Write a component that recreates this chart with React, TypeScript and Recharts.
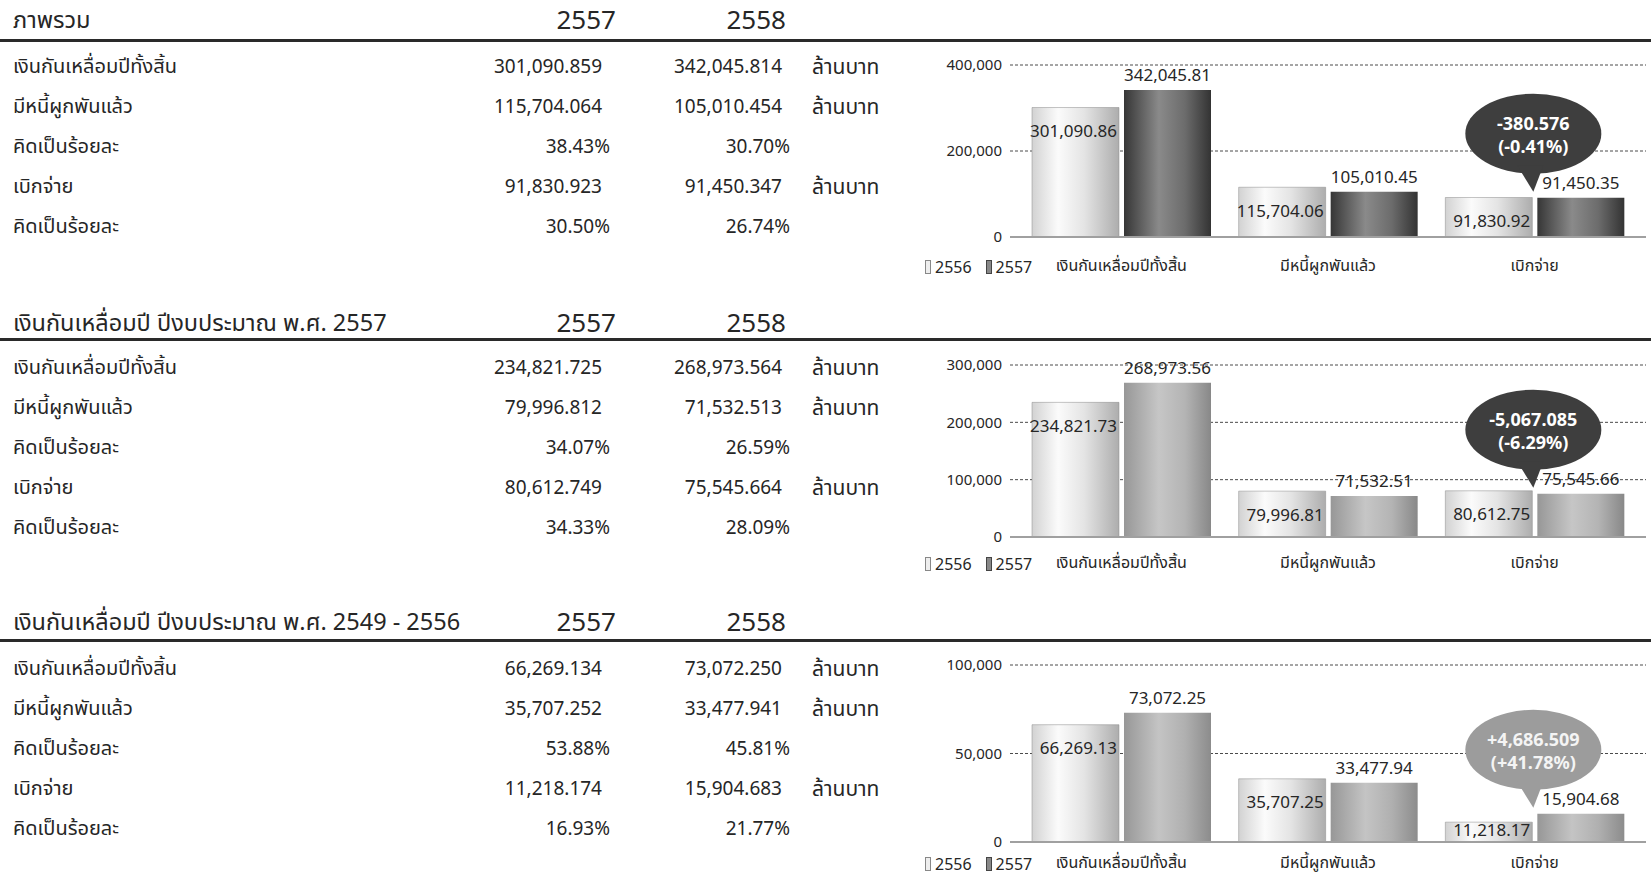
import React from 'react';
import { BarChart, Bar, XAxis, YAxis, CartesianGrid, LabelList, Legend } from 'recharts';

const FONT = "'Noto Sans', 'Noto Sans Thai', 'DejaVu Sans', sans-serif";
const INK = '#262626';

const categories = ['เงินกันเหลื่อมปีทั้งสิ้น', 'มีหนี้ผูกพันแล้ว', 'เบิกจ่าย'];
const legendYears = ['2556', '2557'];
const tableYears = ['2557', '2558'];
const rowLabels = ['เงินกันเหลื่อมปีทั้งสิ้น', 'มีหนี้ผูกพันแล้ว', 'คิดเป็นร้อยละ', 'เบิกจ่าย', 'คิดเป็นร้อยละ'];
const rowUnits = ['ล้านบาท', 'ล้านบาท', '', 'ล้านบาท', ''];
const sectionTitles = [
  'ภาพรวม',
  'เงินกันเหลื่อมปี ปีงบประมาณ พ.ศ. 2557',
  'เงินกันเหลื่อมปี ปีงบประมาณ พ.ศ. 2549 - 2556',
];

// table values (column 2557, column 2558)
const table1Col1 = ['301,090.859', '115,704.064', '38.43%', '91,830.923', '30.50%'];
const table1Col2 = ['342,045.814', '105,010.454', '30.70%', '91,450.347', '26.74%'];
const table2Col1 = ['234,821.725', '79,996.812', '34.07%', '80,612.749', '34.33%'];
const table2Col2 = ['268,973.564', '71,532.513', '26.59%', '75,545.664', '28.09%'];
const table3Col1 = ['66,269.134', '35,707.252', '53.88%', '11,218.174', '16.93%'];
const table3Col2 = ['73,072.250', '33,477.941', '45.81%', '15,904.683', '21.77%'];

// chart series values (legend 2556 / 2557)
const chart1Prev = [301090.86, 115704.06, 91830.92];
const chart1Curr = [342045.81, 105010.45, 91450.35];
const chart2Prev = [234821.73, 79996.81, 80612.75];
const chart2Curr = [268973.56, 71532.51, 75545.66];
const chart3Prev = [66269.13, 35707.25, 11218.17];
const chart3Curr = [73072.25, 33477.94, 15904.68];

// disbursement values used in the callouts
const disbPrev = [91830.923, 80612.749, 11218.174];
const disbCurr = [91450.347, 75545.664, 15904.683];

const chart1Ticks = [0, 200000, 400000];
const chart2Ticks = [0, 100000, 200000, 300000];
const chart3Ticks = [0, 50000, 100000];

const fmt2 = (v: number) =>
  v.toLocaleString('en-US', { minimumFractionDigits: 2, maximumFractionDigits: 2 });
const fmtTick = (v: number) => v.toLocaleString('en-US');
const fmtDiff = (v: number) =>
  (v > 0 ? '+' : v < 0 ? '-' : '') +
  Math.abs(v).toLocaleString('en-US', { minimumFractionDigits: 3, maximumFractionDigits: 3 });

const buildData = (prev: number[], curr: number[]) =>
  categories.map((c, i) => ({ name: c, prev: prev[i], curr: curr[i] }));

type ChartCfg = {
  id: string;
  top: number;
  height: number;
  bottomMargin: number;
  xTickMargin: number;
  legendTop: number;
  ticks: number[];
  prev: number[];
  curr: number[];
  dPrev: number;
  dCurr: number;
  currStops: [string, string, string, string];
  bubbleFill: string;
  bubbleText: string;
};

const prevStops: [string, string, string, string] = ['#d2d2d2', '#fbfbfb', '#e4e4e4', '#adadad'];

const charts: ChartCfg[] = [
  {
    id: 'c1', top: 45, height: 240, bottomMargin: 18, xTickMargin: 23, legendTop: 211,
    ticks: chart1Ticks, prev: chart1Prev, curr: chart1Curr, dPrev: disbPrev[0], dCurr: disbCurr[0],
    currStops: ['#363636', '#8a8a8a', '#6c6c6c', '#333333'], bubbleFill: '#3e3e3e', bubbleText: '#ffffff',
  },
  {
    id: 'c2', top: 345, height: 240, bottomMargin: 18, xTickMargin: 20, legendTop: 208,
    ticks: chart2Ticks, prev: chart2Prev, curr: chart2Curr, dPrev: disbPrev[1], dCurr: disbCurr[1],
    currStops: ['#979797', '#c6c6c6', '#b4b4b4', '#888888'], bubbleFill: '#3e3e3e', bubbleText: '#ffffff',
  },
  {
    id: 'c3', top: 645, height: 230, bottomMargin: 3, xTickMargin: 15, legendTop: 208,
    ticks: chart3Ticks, prev: chart3Prev, curr: chart3Curr, dPrev: disbPrev[2], dCurr: disbCurr[2],
    currStops: ['#979797', '#c4c4c4', '#b0b0b0', '#8c8c8c'], bubbleFill: '#9c9c9c', bubbleText: '#f4f4f4',
  },
];

const PrevLabel = (props: any) => {
  const { x, y, width, height, value } = props;
  const ly = Math.min(y + 23, y + height - 13);
  return (
    <text x={x + width - 2} y={ly} textAnchor="end" dominantBaseline="central"
      fontSize={17} fontFamily={FONT} fill={INK}>
      {fmt2(value)}
    </text>
  );
};

const makeCurrLabel = (cfg: ChartCfg) => (props: any) => {
  const { x, y, width, value } = props;
  const isLast = value === cfg.curr[cfg.curr.length - 1];
  const diff = cfg.dCurr - cfg.dPrev;
  const pct = (diff / cfg.dPrev) * 100;
  const pctStr = '(' + (pct > 0 ? '+' : '') + pct.toFixed(2) + '%)';
  const cx = x - 4;
  const cy = y - 64;
  return (
    <g>
      <text x={x + width / 2} y={y - 15} textAnchor="middle" dominantBaseline="central"
        fontSize={17} fontFamily={FONT} fill={INK}>
        {fmt2(value)}
      </text>
      {isLast && (
        <g>
          <ellipse cx={cx} cy={cy} rx={68} ry={40} fill={cfg.bubbleFill} />
          <path d={`M ${cx - 16} ${cy + 32} L ${cx + 10} ${cy + 32} L ${x - 4} ${y - 6} Z`} fill={cfg.bubbleFill} />
          <text x={cx} y={cy - 11} textAnchor="middle" dominantBaseline="central" fontSize={18}
            fontWeight="bold" fontFamily={FONT} fill={cfg.bubbleText}>
            {fmtDiff(diff)}
          </text>
          <text x={cx} y={cy + 12} textAnchor="middle" dominantBaseline="central" fontSize={18}
            fontWeight="bold" fontFamily={FONT} fill={cfg.bubbleText}>
            {pctStr}
          </text>
        </g>
      )}
    </g>
  );
};

const LegendContent = () => (
  <div style={{ display: 'flex', alignItems: 'center', fontFamily: FONT, fontSize: 16, color: INK }}>
    <span style={{ display: 'inline-block', width: 4, height: 12, border: '1px solid #888', background: '#eee', marginRight: 4 }} />
    <span style={{ marginRight: 14 }}>{legendYears[0]}</span>
    <span style={{ display: 'inline-block', width: 4, height: 12, border: '1px solid #444', background: '#888', marginRight: 4 }} />
    <span>{legendYears[1]}</span>
  </div>
);

const ChartBlock = ({ cfg }: { cfg: ChartCfg }) => {
  const data = buildData(cfg.prev, cfg.curr);
  const max = cfg.ticks[cfg.ticks.length - 1];
  return (
    <div style={{ position: 'absolute', left: 921, top: cfg.top }}>
      <BarChart width={730} height={cfg.height} data={data}
        margin={{ top: 20, right: 5, left: 0, bottom: cfg.bottomMargin }}
        barCategoryGap={14} barGap={5}>
        <defs>
          <linearGradient id={`${cfg.id}-prev`} x1="0" y1="0" x2="1" y2="0">
            <stop offset="0%" stopColor={prevStops[0]} />
            <stop offset="30%" stopColor={prevStops[1]} />
            <stop offset="60%" stopColor={prevStops[2]} />
            <stop offset="100%" stopColor={prevStops[3]} />
          </linearGradient>
          <linearGradient id={`${cfg.id}-curr`} x1="0" y1="0" x2="1" y2="0">
            <stop offset="0%" stopColor={cfg.currStops[0]} />
            <stop offset="40%" stopColor={cfg.currStops[1]} />
            <stop offset="70%" stopColor={cfg.currStops[2]} />
            <stop offset="100%" stopColor={cfg.currStops[3]} />
          </linearGradient>
        </defs>
        <CartesianGrid vertical={false} stroke="#4a4a4a" strokeDasharray="3 2" />
        <XAxis dataKey="name" tickLine={false} tickSize={0} tickMargin={cfg.xTickMargin} height={30}
          padding={{ left: 8, right: 8 }} axisLine={{ stroke: '#a0a0a0', strokeWidth: 2 }}
          tick={{ fontSize: 16, fontFamily: FONT, fill: INK }} interval={0} />
        <YAxis width={89} domain={[0, max]} ticks={cfg.ticks} tickFormatter={fmtTick}
          axisLine={false} tickLine={false} tickSize={0} tickMargin={8}
          tick={{ fontSize: 15, fontFamily: FONT, fill: INK }} />
        <Legend verticalAlign="middle" align="center" layout="horizontal" content={<LegendContent />}
          wrapperStyle={{ left: 4, top: cfg.legendTop, width: 140, height: 20 }} />
        <Bar dataKey="prev" name={legendYears[0]} fill={`url(#${cfg.id}-prev)`} stroke="#8a8a8a" strokeWidth={0.5} isAnimationActive={false}>
          <LabelList dataKey="prev" content={<PrevLabel />} />
        </Bar>
        <Bar dataKey="curr" name={legendYears[1]} fill={`url(#${cfg.id}-curr)`} isAnimationActive={false}>
          <LabelList dataKey="curr" content={makeCurrLabel(cfg)} />
        </Bar>
      </BarChart>
    </div>
  );
};

const sectionHeaderY = [19, 322, 621];
const sectionLineY = [40, 339, 640];
const sectionRowStart = [66, 367, 668];
const ROW_STEP = 40;
const tablesCol1 = [table1Col1, table2Col1, table3Col1];
const tablesCol2 = [table1Col2, table2Col2, table3Col2];

const TextAt = ({ x, y, children, align = 'left', size = 19, width = 300 }: any) => {
  const style: React.CSSProperties = {
    position: 'absolute', top: y - 16, height: 32, lineHeight: '32px', fontSize: size,
    fontFamily: FONT, color: INK, whiteSpace: 'nowrap',
  };
  if (align === 'right') {
    style.left = x - width;
    style.width = width;
    style.textAlign = 'right';
  } else {
    style.left = x;
  }
  return <div style={style}>{children}</div>;
};

const Section = ({ s }: { s: number }) => {
  const col1 = tablesCol1[s];
  const col2 = tablesCol2[s];
  return (
    <>
      <TextAt x={13} y={sectionHeaderY[s]} size={23.5}>{sectionTitles[s]}</TextAt>
      <TextAt x={616} y={sectionHeaderY[s]} size={26} align="right">{tableYears[0]}</TextAt>
      <TextAt x={786} y={sectionHeaderY[s]} size={26} align="right">{tableYears[1]}</TextAt>
      <div style={{ position: 'absolute', left: 0, top: sectionLineY[s] - 1, width: 1651, height: 3, background: '#2a2a2a' }} />
      {rowLabels.map((lbl, i) => {
        const y = sectionRowStart[s] + i * ROW_STEP;
        const isPct = col1[i].endsWith('%');
        return (
          <React.Fragment key={i}>
            <TextAt x={13} y={y} size={20}>{lbl}</TextAt>
            <TextAt x={isPct ? 610 : 602} y={y} align="right">{col1[i]}</TextAt>
            <TextAt x={isPct ? 790 : 782} y={y} align="right">{col2[i]}</TextAt>
            {rowUnits[i] && <TextAt x={812} y={y} size={21}>{rowUnits[i]}</TextAt>}
          </React.Fragment>
        );
      })}
    </>
  );
};

export default function App() {
  return (
    <div style={{ position: 'absolute', left: 0, top: 0, width: 1651, height: 875, background: '#ffffff', overflow: 'hidden' }}>
      {[0, 1, 2].map((s) => <Section key={s} s={s} />)}
      {charts.map((c) => <ChartBlock key={c.id} cfg={c} />)}
    </div>
  );
}
